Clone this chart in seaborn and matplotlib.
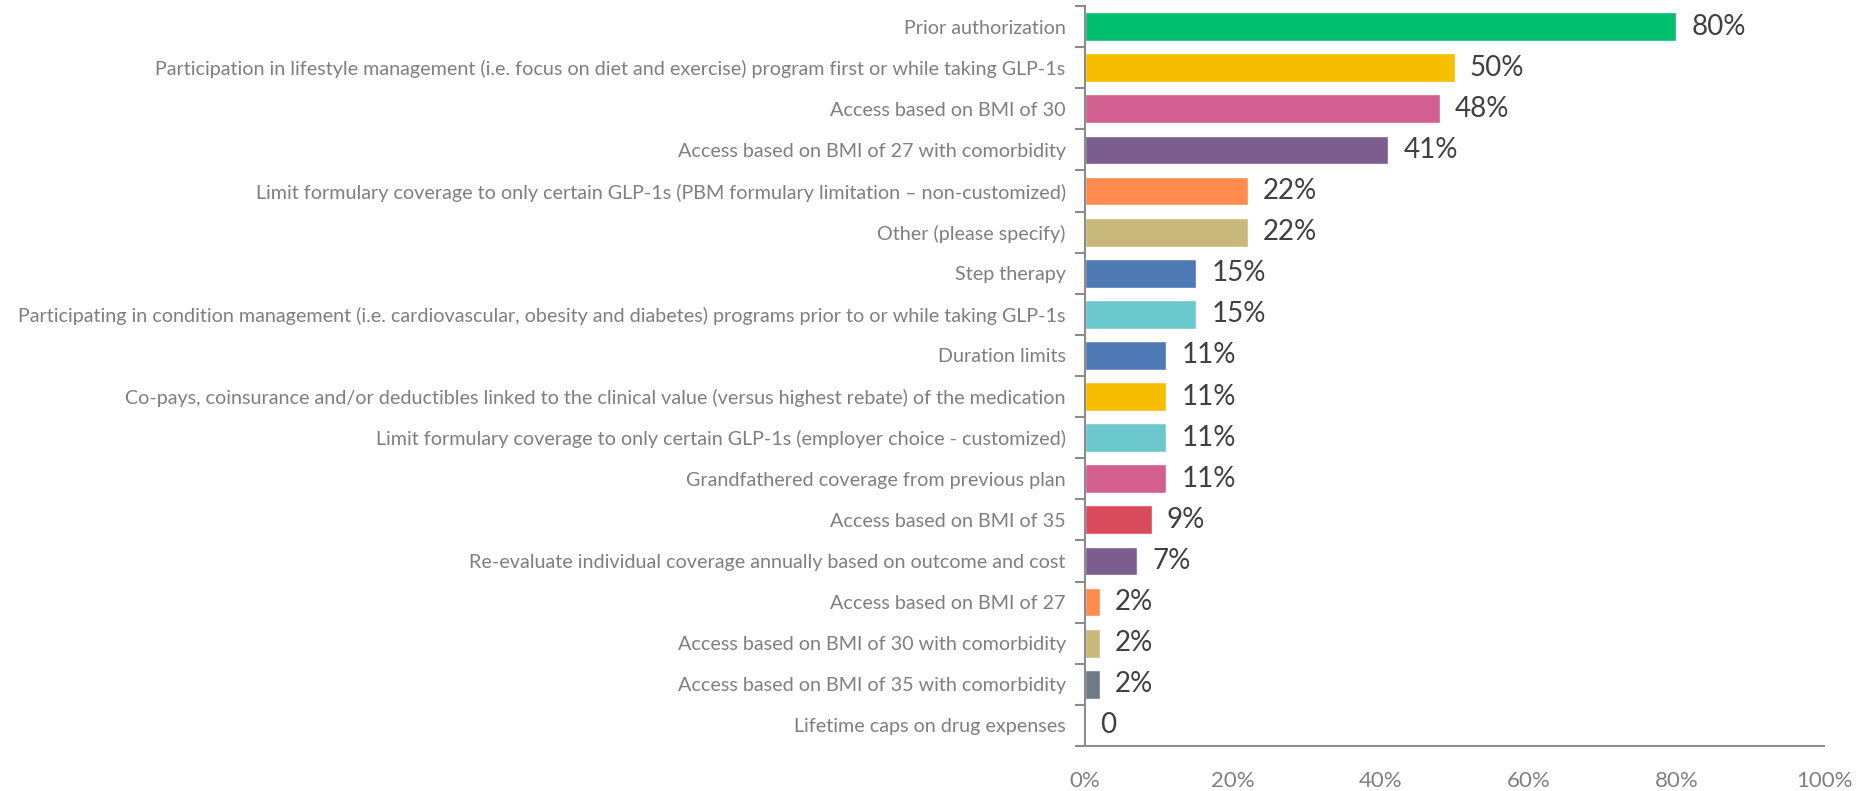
import matplotlib
matplotlib.use("Agg")
import matplotlib.pyplot as plt
import seaborn as sns
import pandas as pd
from matplotlib.ticker import FixedLocator, PercentFormatter

categories = [
    "Prior authorization",
    "Participation in lifestyle management (i.e. focus on diet and exercise) program first or while taking GLP-1s",
    "Access based on BMI of 30",
    "Access based on BMI of 27 with comorbidity",
    "Limit formulary coverage to only certain GLP-1s (PBM formulary limitation \u2013 non-customized)",
    "Other (please specify)",
    "Step therapy",
    "Participating in condition management (i.e. cardiovascular, obesity and diabetes) programs prior to or while taking GLP-1s",
    "Duration limits",
    "Co-pays, coinsurance and/or deductibles linked to the clinical value (versus highest rebate) of the medication",
    "Limit formulary coverage to only certain GLP-1s (employer choice - customized)",
    "Grandfathered coverage from previous plan",
    "Access based on BMI of 35",
    "Re-evaluate individual coverage annually based on outcome and cost",
    "Access based on BMI of 27",
    "Access based on BMI of 30 with comorbidity",
    "Access based on BMI of 35 with comorbidity",
    "Lifetime caps on drug expenses",
]
values = [80, 50, 48, 41, 22, 22, 15, 15, 11, 11, 11, 11, 9, 7, 2, 2, 2, 0]
value_labels = ["80%", "50%", "48%", "41%", "22%", "22%", "15%", "15%", "11%", "11%",
                "11%", "11%", "9%", "7%", "2%", "2%", "2%", "0"]
bar_colors = ["#00BF6F", "#F7BE00", "#D25F90", "#7B5E8F", "#FF8B4F", "#C8B97A",
              "#4E79B4", "#6BC8CD", "#4E79B4", "#F7BE00", "#6BC8CD", "#D25F90",
              "#D94B5C", "#7B5E8F", "#FF8B4F", "#C8B97A", "#6F7A85", "#FFFFFF"]
x_ticks = [0, 20, 40, 60, 80, 100]

sns.set_style("white")
plt.rcParams["font.family"] = ["Lato", "DejaVu Sans"]

df = pd.DataFrame({"category": categories, "value": values})

fig = plt.figure(figsize=(18.59, 7.91), dpi=100)
ax = fig.add_axes([0.5837, 0.0569, 0.3975, 0.9355])

sns.barplot(data=df, x="value", y="category", hue="category", palette=bar_colors,
            orient="h", width=0.7, legend=False, ax=ax, saturation=1)

ax.set_xlim(0, 100)
ax.set_ylim(len(categories) - 0.5, -0.5)
ax.set_xlabel("")
ax.set_ylabel("")

axis_grey = "#8C8C8C"
for side in ["top", "right"]:
    ax.spines[side].set_visible(False)
for side in ["left", "bottom"]:
    ax.spines[side].set_color(axis_grey)
    ax.spines[side].set_linewidth(1.5)

ax.xaxis.set_major_locator(FixedLocator(x_ticks))
ax.xaxis.set_major_formatter(PercentFormatter(decimals=0))
ax.tick_params(axis="x", which="major", direction="out", length=7, width=1.5,
               color=axis_grey, labelcolor="#808080", labelsize=16, pad=11)

ax.set_yticks(range(len(categories)))
ax.set_yticklabels(categories)
ax.tick_params(axis="y", which="major", length=0, labelcolor="#7F7F7F",
               labelsize=14.2, pad=14)
ax.yaxis.set_minor_locator(FixedLocator([i - 0.5 for i in range(len(categories) + 1)]))
ax.tick_params(axis="y", which="minor", direction="out", length=7, width=1.5,
               color=axis_grey, left=True)

for i, (v, lab) in enumerate(zip(values, value_labels)):
    ax.annotate(lab, xy=(v, i), xytext=(11, 0), textcoords="offset points",
                va="center", ha="left", fontsize=20, color="#404040")

fig.savefig("out.png", dpi=100)
